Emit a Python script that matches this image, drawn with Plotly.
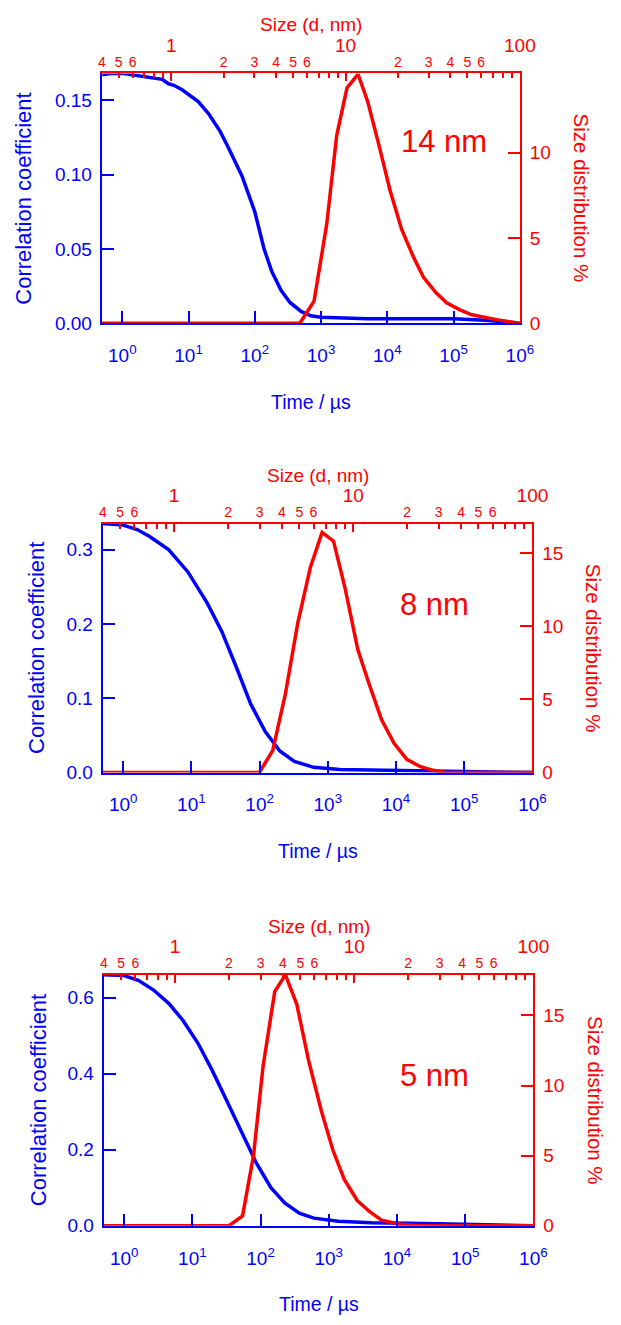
import plotly.graph_objects as go

W, H = 621, 1325
BLUE = "#0000FF"
RED = "#FF0000"
FONT = "Liberation Sans, Arial, sans-serif"

# ---------------- data ----------------
# Panel 1 (14 nm)
t1 = [0.5, 0.7, 1.0, 1.5, 2, 3, 4, 5, 6, 8, 10, 14, 20, 30, 40, 50, 64, 80, 100, 138, 180, 250, 340, 500,
      700, 1000, 2000, 5000, 1e4, 3e4, 1e5, 3e5, 1e6]
g1 = [0.167, 0.168, 0.168, 0.167, 0.166, 0.165, 0.164, 0.161, 0.160, 0.157, 0.154, 0.149, 0.141, 0.129,
      0.118, 0.109, 0.099, 0.087, 0.075, 0.050, 0.035, 0.022, 0.014, 0.008, 0.005, 0.004, 0.0035, 0.003,
      0.003, 0.003, 0.003, 0.002, 0.0]
s1 = [0.4, 1.0, 3.0, 5.47, 6.6, 7.8, 8.9, 10.2, 11.8, 13.4, 15.5, 18.0, 21.0, 24.5, 28.0, 33.0, 38.0,
      45.0, 53.0, 62.0, 75.0, 100.0]
d1 = [0.0, 0.0, 0.0, 0.0, 1.3, 5.8, 11.0, 13.8, 14.6, 13.0, 10.5, 7.8, 5.5, 3.9, 2.7, 1.8, 1.2, 0.8,
      0.5, 0.35, 0.2, 0.0]

# Panel 2 (8 nm)
t2 = [0.5, 1.0, 1.6, 2.41, 4.63, 8.89, 17.1, 27.9, 45.5, 74.3, 121, 198, 323, 621, 1500, 1e4, 1e5, 1e6]
g2 = [0.335, 0.333, 0.327, 0.318, 0.300, 0.270, 0.228, 0.190, 0.142, 0.092, 0.055, 0.029, 0.015, 0.007,
      0.004, 0.003, 0.002, 0.0]
s2 = [0.4, 1.0, 2.0, 2.99, 3.55, 4.17, 4.9, 5.76, 6.7, 7.76, 9.0, 10.6, 12.3, 14.4, 16.9, 19.9, 23.7,
      28.0, 33.0, 50.0, 100.0]
d2 = [0.0, 0.0, 0.0, 0.0, 1.5, 5.3, 10.2, 14.0, 16.4, 15.8, 12.6, 8.4, 6.0, 3.6, 2.0, 0.9, 0.4, 0.15,
      0.0, 0.0, 0.0]

# Panel 3 (5 nm)
t3 = [0.5, 1.0, 1.64, 2.7, 4.5, 7.3, 12.1, 19.4, 31.7, 52.6, 86.6, 142, 226, 370, 605, 1370, 4200,
      4.2e4, 4e5, 1e6]
g3 = [0.660, 0.658, 0.645, 0.620, 0.585, 0.540, 0.480, 0.410, 0.330, 0.245, 0.165, 0.100, 0.060, 0.033,
      0.020, 0.012, 0.008, 0.005, 0.003, 0.0]
s3 = [0.4, 1.0, 2.0, 2.38, 2.74, 3.1, 3.6, 4.13, 4.78, 5.56, 6.55, 7.6, 8.8, 10.4, 12.2, 14.2, 18.2,
      23.4, 50.0, 100.0]
d3 = [0.0, 0.0, 0.0, 0.7, 5.0, 11.4, 16.7, 17.9, 15.8, 11.8, 8.2, 5.4, 3.3, 1.8, 1.0, 0.4, 0.1, 0.0,
      0.0, 0.0]

labels = ["14 nm", "8 nm", "5 nm"]

# tick labels
time_ticks = [1, 10, 100, 1e3, 1e4, 1e5, 1e6]
time_text = ["10<sup>%d</sup>" % i for i in range(7)]
size_major = [1, 10, 100]
size_major_text = ["1", "10", "100"]
size_minor_lab = [0.4, 0.5, 0.6, 2, 3, 4, 5, 6, 20, 30, 40, 50, 60]
size_minor_lab_text = ["4", "5", "6", "2", "3", "4", "5", "6", "2", "3", "4", "5", "6"]
size_minor_nolab = [0.7, 0.8, 0.9, 7, 8, 9, 70, 80, 90]

left_ticks = [[0, 0.05, 0.10, 0.15], [0, 0.1, 0.2, 0.3], [0, 0.2, 0.4, 0.6]]
left_fmt = [".2f", ".1f", ".1f"]
left_max = [0.168, 0.335, 0.66]
right_ticks = [[0, 5, 10], [0, 5, 10, 15], [0, 5, 10, 15]]
right_max = [14.65, 17.0, 17.9]

# ---------------- layout geometry (pixels) ----------------
boxes = [(101, 533, 74, 326), (102, 546, 528, 779), (103, 547, 983, 1236)]
time_lo = [-0.31, -0.30, -0.30]
left_title_x = [20, 33, 35]
label_pos = [(455, 143), (445, 610), (445, 1085)]

fig = go.Figure()
layout = dict(width=W, height=H, margin=dict(l=0, r=0, t=0, b=0), autosize=False,
              paper_bgcolor="white", plot_bgcolor="white", showlegend=False,
              font=dict(family=FONT))
annotations = []

datasets = [(t1, g1, s1, d1), (t2, g2, s2, d2), (t3, g3, s3, d3)]


def key(a):
    return a[0] + "axis" + a[1:]


for i, (tt, gg, ss, dd) in enumerate(datasets):
    x0, x1, y0, y1 = boxes[i]
    xd = [x0 / W, x1 / W]
    yd = [1 - y1 / H, 1 - y0 / H]
    nb = 3 * i + 1  # bottom x axis index
    nl = 2 * i + 1  # left y axis index
    xb = "x" if nb == 1 else "x%d" % nb
    xt1 = "x%d" % (nb + 1)
    xt2 = "x%d" % (nb + 2)
    yl = "y" if nl == 1 else "y%d" % nl
    yr = "y%d" % (nl + 1)

    layout[key(xb)] = dict(domain=xd, anchor=yl, type="log", range=[time_lo[i], 6],
                           tickvals=time_ticks, ticktext=time_text, ticks="inside", ticklen=12,
                           tickwidth=2, tickcolor=BLUE, showline=True, linecolor=BLUE, linewidth=2,
                           showgrid=False, zeroline=False,
                           tickfont=dict(color=BLUE, size=19, family=FONT), ticklabelstandoff=14)
    layout[key(xt1)] = dict(overlaying=xb, anchor=yl, side="top", type="log", range=[-0.3985, 2],
                            tickvals=size_major, ticktext=size_major_text, ticks="inside", ticklen=8,
                            tickwidth=2, tickcolor=RED, showline=True, linecolor=RED, linewidth=2,
                            showgrid=False, zeroline=False,
                            tickfont=dict(color=RED, size=19, family=FONT), ticklabelstandoff=12)
    layout[key(xt2)] = dict(overlaying=xb, anchor=yl, side="top", type="log", range=[-0.3985, 2],
                            tickvals=size_minor_lab, ticktext=size_minor_lab_text, ticks="inside",
                            ticklen=5, tickwidth=2, tickcolor=RED, showline=False,
                            minor=dict(tickvals=size_minor_nolab, ticks="inside", ticklen=5,
                                       tickwidth=2, tickcolor=RED, showgrid=False),
                            showgrid=False, zeroline=False,
                            tickfont=dict(color=RED, size=14, family=FONT), ticklabelstandoff=3)
    layout[key(yl)] = dict(domain=yd, anchor=xb, range=[0, left_max[i]], tickvals=left_ticks[i],
                           tickformat=left_fmt[i], ticks="inside", ticklen=12, tickwidth=2,
                           tickcolor=BLUE, showline=True, linecolor=BLUE, linewidth=2, showgrid=False,
                           zeroline=False, tickfont=dict(color=BLUE, size=19, family=FONT),
                           ticklabelstandoff=4)
    layout[key(yr)] = dict(overlaying=yl, anchor=xb, side="right", range=[0, right_max[i]],
                           tickvals=right_ticks[i], ticks="inside", ticklen=12, tickwidth=2,
                           tickcolor=RED, showline=True, linecolor=RED, linewidth=2, showgrid=False,
                           zeroline=False, tickfont=dict(color=RED, size=19, family=FONT),
                           ticklabelstandoff=4)

    # invisible trace so the minor top axis is rendered
    fig.add_trace(go.Scatter(x=[ss[0]], y=[0], xaxis=xt2, yaxis=yr, mode="markers",
                             marker=dict(size=1, opacity=0), hoverinfo="skip"))
    fig.add_trace(go.Scatter(x=ss, y=dd, xaxis=xt1, yaxis=yr, mode="lines",
                             line=dict(color=RED, width=3.5), hoverinfo="skip"))
    fig.add_trace(go.Scatter(x=tt, y=gg, xaxis=xb, yaxis=yl, mode="lines",
                             line=dict(color=BLUE, width=3.5), hoverinfo="skip"))

    cx = (x0 + x1) / 2 / W
    lx, ly = label_pos[i]
    annotations += [
        dict(text="Size (d, nm)", x=cx, y=1 - (y0 - 49) / H, xref="paper", yref="paper",
             showarrow=False, font=dict(color=RED, size=19, family=FONT), xanchor="center", yanchor="middle"),
        dict(text="Time / \u00b5s", x=cx, y=1 - (y1 + 79) / H, xref="paper", yref="paper",
             showarrow=False, font=dict(color=BLUE, size=19.5, family=FONT), xanchor="center", yanchor="middle"),
        dict(text="Correlation coefficient", x=left_title_x[i] / W, y=1 - (y0 + y1) / 2 / H,
             xref="paper", yref="paper", showarrow=False, textangle=-90,
             font=dict(color=BLUE, size=22, family=FONT), xanchor="center", yanchor="middle"),
        dict(text="Size distribution %", x=(x1 + 64) / W, y=1 - (y0 + y1) / 2 / H,
             xref="paper", yref="paper", showarrow=False, textangle=90,
             font=dict(color=RED, size=20.5, family=FONT), xanchor="center", yanchor="middle"),
        dict(text=labels[i], x=lx / W, y=1 - ly / H,
             xref="paper", yref="paper", showarrow=False,
             font=dict(color=RED, size=31, family=FONT), xanchor="center", yanchor="middle"),
    ]

layout["annotations"] = annotations
fig.update_layout(**layout)
fig.write_html("out.html",
               post_script="document.body.style.margin='0';"
                           "document.body.style.overflow='hidden';"
                           "document.documentElement.style.overflow='hidden';")
